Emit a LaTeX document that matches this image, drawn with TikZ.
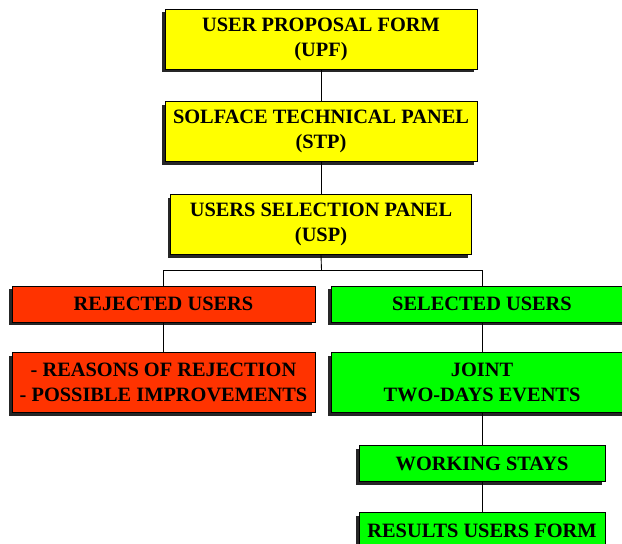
\documentclass[tikz,border=0pt]{standalone}
\usepackage{fontspec}
\setmainfont{Liberation Serif}
\usetikzlibrary{positioning,shadows}

\definecolor{boxyellow}{RGB}{255,255,0}
\definecolor{boxred}{RGB}{255,51,0}
\definecolor{boxgreen}{RGB}{0,255,0}

\begin{document}
\begin{tikzpicture}[
            x=0.02cm, y=-0.02cm,
            node distance=0.64cm,
            block/.style={rectangle, draw, line width=0.5pt, inner sep=0pt, align=center,
                font=\fontsize{11.6}{14.2}\selectfont\bfseries,
                drop shadow={shadow xshift=-0.06cm, shadow yshift=-0.06cm, fill=black!85, opacity=1}},
            tall/.style={minimum height=1.2cm},
            flat/.style={minimum height=0.72cm},
            link/.style={draw, line width=0.5pt}
        ]
        \useasboundingbox (0,0) rectangle (622,544);

        \node[block, tall, fill=boxyellow, minimum width=6.24cm] (upf) at (321,39) {USER PROPOSAL FORM\\(UPF)};
        \node[block, tall, fill=boxyellow, minimum width=6.24cm, below=of upf] (stp) {SOLFACE TECHNICAL PANEL\\(STP)};
        \node[block, tall, fill=boxyellow, minimum width=6.02cm, below=of stp] (usp) {USERS SELECTION PANEL\\(USP)};

        \node[block, flat, fill=boxred, minimum width=6.06cm] (rej) at (163.5,304) {REJECTED USERS};
        \node[block, flat, fill=boxgreen, minimum width=6.04cm] (sel) at (482,304) {SELECTED USERS};

        \node[block, tall, fill=boxred, minimum width=6.06cm, below=0.6cm of rej] (why) {- REASONS OF REJECTION\\- POSSIBLE IMPROVEMENTS};
        \node[block, tall, fill=boxgreen, minimum width=6.04cm, below=0.6cm of sel] (joint) {JOINT\\TWO-DAYS EVENTS};
        \node[block, flat, fill=boxgreen, minimum width=4.92cm, below=0.64cm of joint] (stays) {WORKING STAYS};
        \node[block, flat, fill=boxgreen, minimum width=4.92cm, below=0.6cm of stays] (results) {RESULTS USERS FORM};

        \coordinate (split) at (321.5,270);

        \draw[link] (upf) -- (stp);
        \draw[link] (stp) -- (usp);
        \draw[link] (usp.south) -- (split);
        \draw[link] (split) -| (rej.north);
        \draw[link] (split) -| (sel.north);
        \draw[link] (rej) -- (why);
        \draw[link] (sel) -- (joint);
        \draw[link] (joint) -- (stays);
        \draw[link] (stays) -- (results);
        \end{tikzpicture}
\end{document}
